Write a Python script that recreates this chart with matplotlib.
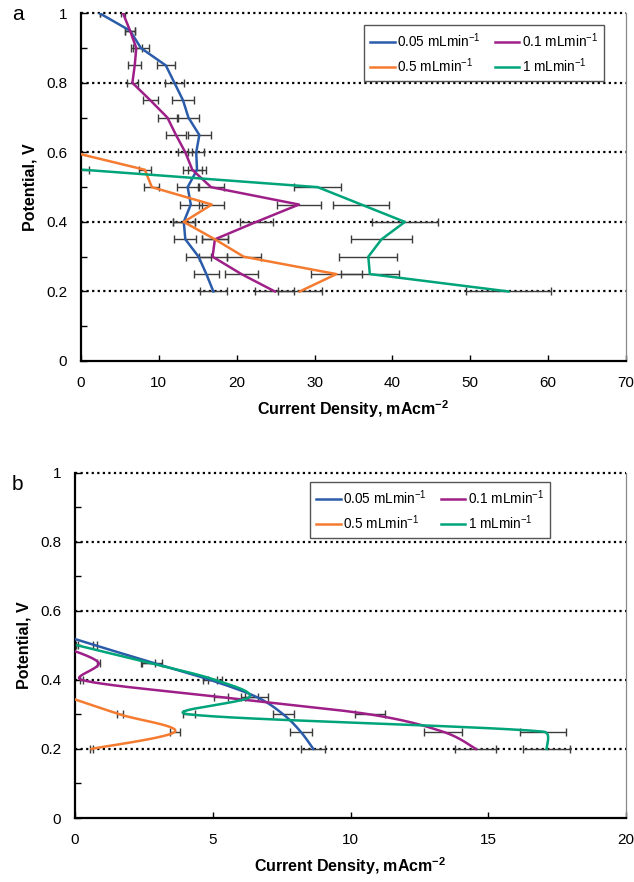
import numpy as np
import matplotlib
matplotlib.use("Agg")
import matplotlib.pyplot as plt
from matplotlib.ticker import MultipleLocator, FuncFormatter

plt.rcParams['font.family'] = ['Liberation Sans', 'DejaVu Sans']
plt.rcParams['mathtext.fontset'] = 'custom'
plt.rcParams['mathtext.rm'] = 'Liberation Sans'
plt.rcParams['mathtext.bf'] = 'Liberation Sans:bold'

# ---------------- data: panel a ----------------
va_005 = [1.0, 0.95, 0.9, 0.85, 0.8, 0.75, 0.7, 0.65, 0.6, 0.55, 0.5, 0.45, 0.4, 0.35, 0.3, 0.25, 0.2]
a_005 = [2.4, 6.3, 7.7, 10.9, 12.0, 13.1, 13.8, 15.2, 14.8, 14.9, 13.7, 14.1, 13.2, 13.4, 15.1, 16.1, 17.0]
a_005_err = [0.0, 0.6, 1.0, 1.2, 1.2, 1.35, 1.4, 1.5, 1.0, 1.2, 1.4, 1.4, 1.4, 1.4, 1.6, 1.6, 1.7]

va_01 = va_005
a_01 = [5.4, 6.3, 7.1, 6.9, 6.6, 8.9, 11.1, 12.2, 13.4, 14.3, 16.7, 28.0, 22.5, 17.2, 16.9, 20.6, 24.9]
a_01_err = [0.3, 0.6, 0.7, 0.8, 0.7, 0.95, 1.2, 1.3, 0.9, 1.2, 1.7, 2.8, 2.1, 1.7, 1.8, 2.1, 2.5]

va_05 = [0.6, 0.55, 0.5, 0.45, 0.4, 0.35, 0.3, 0.25, 0.2]
a_05 = [-1.0, 8.2, 9.1, 16.8, 13.2, 17.2, 20.9, 32.8, 28.1]
a_05_err = [0.0, 0.8, 0.95, 1.6, 1.4, 1.7, 2.2, 3.3, 2.8]

va_1 = [0.55, 0.5, 0.45, 0.4, 0.35, 0.3, 0.25, 0.2]
a_1 = [0.3, 30.4, 36.0, 41.6, 38.6, 36.9, 37.1, 54.9]
a_1_err = [0.75, 3.0, 3.6, 4.2, 3.9, 3.7, 3.7, 5.5]

# ---------------- data: panel b ----------------
vb_005 = [0.55, 0.5, 0.45, 0.4, 0.35, 0.3, 0.25, 0.2]
b_005 = [-1.3, 0.73, 2.8, 4.9, 6.6, 7.56, 8.19, 8.65]
b_005_err = [0.0, 0.06, 0.36, 0.27, 0.42, 0.38, 0.4, 0.44]

vb_01 = [0.5, 0.45, 0.4, 0.35, 0.3, 0.25, 0.2]
b_01 = [-0.6, 0.85, 0.24, 5.3, 10.7, 13.35, 14.55]
b_01_err = [0.0, 0.06, 0.05, 0.26, 0.54, 0.68, 0.74]

vb_05 = [0.35, 0.3, 0.25, 0.2]
b_05 = [-0.25, 1.63, 3.63, 0.6]
b_05_err = [0.0, 0.1, 0.18, 0.05]

vb_1 = [0.5, 0.45, 0.4, 0.35, 0.3, 0.25, 0.2]
b_1 = [0.08, 2.66, 5.08, 6.33, 4.15, 17.0, 17.12]
b_1_err = [0.03, 0.25, 0.25, 0.3, 0.22, 0.83, 0.86]

labels = ["0.05", "0.1", "0.5", "1"]
colors = ["#2a5caa", "#9e1f88", "#f47b30", "#00a47a"]
unit = r" $\mathregular{mLmin^{-1}}$"


def smooth(x, y, sx, sy, n=30, clamp=0.5):
    """Smoothed line through the points: Catmull-Rom style Bezier segments,
    with control arms limited relative to the segment length."""
    P = np.column_stack([np.asarray(x, float) * sx, np.asarray(y, float) * sy])
    m = len(P)
    T = np.zeros_like(P)
    for i in range(m):
        a = P[max(i - 1, 0)]
        b = P[min(i + 1, m - 1)]
        T[i] = (b - a) / 6.0
    out = []
    t = np.linspace(0, 1, n)[:, None]
    for i in range(m - 1):
        L = np.linalg.norm(P[i + 1] - P[i])
        a1, a2 = T[i], T[i + 1]
        n1, n2 = np.linalg.norm(a1), np.linalg.norm(a2)
        if n1 > clamp * L:
            a1 = a1 * clamp * L / n1
        if n2 > clamp * L:
            a2 = a2 * clamp * L / n2
        B0, B3 = P[i], P[i + 1]
        B1 = B0 + a1
        B2 = B3 - a2
        c = ((1 - t) ** 3) * B0 + 3 * ((1 - t) ** 2) * t * B1 + 3 * (1 - t) * t ** 2 * B2 + t ** 3 * B3
        out.append(c if i == m - 2 else c[:-1])
    C = np.vstack(out)
    return C[:, 0] / sx, C[:, 1] / sy


fig = plt.figure(figsize=(6.34, 8.82), dpi=100)
axa = fig.add_axes([81 / 634, 1 - 361 / 882, 545 / 634, 347.7 / 882])
axb = fig.add_axes([75 / 634, 1 - 818 / 882, 551 / 634, 345.4 / 882])


def style(ax, xmax, xstep):
    ax.set_xlim(0, xmax)
    ax.set_ylim(0, 1)
    ax.xaxis.set_major_locator(MultipleLocator(xstep))
    ax.yaxis.set_major_locator(MultipleLocator(0.2))
    ax.yaxis.set_minor_locator(MultipleLocator(0.1))
    ax.yaxis.set_major_formatter(FuncFormatter(lambda v, p: f"{v:g}"))
    ax.tick_params(axis='both', which='both', direction='in', labelsize=11,
                   top=False, right=False, length=4, width=1)
    ax.tick_params(axis='x', pad=11)
    ax.tick_params(axis='y', pad=10)
    for y in [0.2, 0.4, 0.6, 0.8, 1.0]:
        ax.axhline(y, color='black', lw=1.6, ls=(0, (1.0, 1.5)), zorder=1, clip_on=False)
    ax.spines['top'].set_visible(False)
    ax.spines['right'].set_color('#888888')
    ax.spines['right'].set_linewidth(0.9)
    ax.spines['left'].set_linewidth(1.6)
    ax.spines['bottom'].set_linewidth(1.6)
    ax.set_xlabel(r"Current Density, mAcm$^{\mathbf{-2}}$", fontsize=11.5, fontweight='bold', labelpad=6)
    ax.set_ylabel("Potential, V", fontsize=11.5, fontweight='bold', labelpad=6)


style(axa, 70, 10)
style(axb, 20, 5)

eb_kw = dict(fmt='none', ecolor='#3c3c3c', elinewidth=1.0, capsize=3, capthick=1.0, zorder=3)

# panel a: straight lines
series_a = [(a_005, va_005, a_005_err), (a_01, va_01, a_01_err),
            (a_05, va_05, a_05_err), (a_1, va_1, a_1_err)]
handles_a = []
for (xv, yv, ev), lab, col in zip(series_a, labels, colors):
    h, = axa.plot(xv, yv, color=col, lw=1.8, label=lab + unit, zorder=4)
    handles_a.append(h)
    axa.errorbar(xv, yv, xerr=ev, **eb_kw)

# panel b: smoothed lines
sx, sy = 551 / 20, 346.5
series_b = [(b_005, vb_005, b_005_err), (b_01, vb_01, b_01_err),
            (b_05, vb_05, b_05_err), (b_1, vb_1, b_1_err)]
handles_b = []
for (xv, yv, ev), lab, col in zip(series_b, labels, colors):
    xs, ys = smooth(xv, yv, sx, sy)
    h, = axb.plot(xs, ys, color=col, lw=1.8, label=lab + unit, zorder=4)
    handles_b.append(h)
    axb.errorbar(xv, yv, xerr=ev, **eb_kw)

order = [0, 2, 1, 3]
for ax, hs, anchor in [(axa, handles_a, ((364 - 81) / 545, 1 - (25 - 13.3) / 347.7)),
                       (axb, handles_b, ((310 - 75) / 551, 1 - (482 - 472.6) / 345.4))]:
    leg = ax.legend([hs[i] for i in order], [hs[i].get_label() for i in order],
                    ncol=2, loc='upper left', bbox_to_anchor=anchor, fontsize=9.8,
                    frameon=True, fancybox=False, edgecolor='#555555', framealpha=1,
                    handlelength=1.8, handletextpad=0.2, columnspacing=1.0,
                    borderpad=0.45, labelspacing=0.5, borderaxespad=0)
    leg.get_frame().set_linewidth(1.0)
    leg.set_zorder(10)

fig.text(12 / 634, 1 - 15 / 882, "a", fontsize=15, va='center', ha='left')
fig.text(12 / 634, 1 - 485 / 882, "b", fontsize=15, va='center', ha='left')

fig.savefig("out.png", dpi=100)
